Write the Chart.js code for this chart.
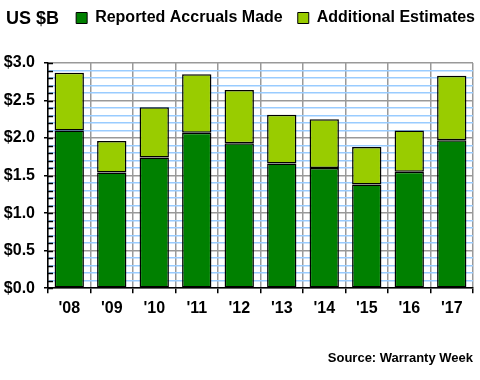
<!DOCTYPE html>
<html>
<head>
<meta charset="utf-8">
<script src="https://cdn.jsdelivr.net/npm/chart.js@4.4.0/dist/chart.umd.min.js"></script>
<style>
  html, body { margin: 0; padding: 0; background: #fff; }
  #wrap { position: relative; width: 480px; height: 380px; }
  #unit { position: absolute; left: 6px; top: 7px; font: bold 18px "Liberation Sans", Arial, sans-serif; color: #000; line-height: 22px; }
  canvas { position: absolute; left: 0; top: 0; }
</style>
</head>
<body>
<div id="wrap">
  <canvas id="c" width="480" height="380"></canvas>
  <div id="unit">US $B</div>
</div>
<script>
const categories = ["'08", "'09", "'10", "'11", "'12", "'13", "'14", "'15", "'16", "'17"];
const reportedAccruals = [2.10, 1.54, 1.74, 2.07, 1.93, 1.66, 1.60, 1.38, 1.55, 1.97];
const additionalEstimates = [0.77, 0.42, 0.67, 0.78, 0.71, 0.65, 0.65, 0.50, 0.55, 0.86];
const yMajorLabels = ["$0.0", "$0.5", "$1.0", "$1.5", "$2.0", "$2.5", "$3.0"];

const FONT = "'Liberation Sans', Arial, sans-serif";
const isMajor = v => Math.round(v * 10) % 5 === 0;
const LEG_PAD = 15;

const innerTicks = {
  id: 'innerTicks',
  afterLayout(chart) {
    const lg = chart.legend;
    const dx = (475 + LEG_PAD) - lg.right;
    const dy = -5 - lg.top;
    lg.left += dx; lg.right += dx;
    lg.top += dy; lg.bottom += dy;
  },
  afterDatasetsDraw(chart) {
    const y = chart.scales.y, ctx = chart.ctx, x0 = chart.chartArea.left;
    ctx.save();
    ctx.strokeStyle = '#000';
    ctx.lineWidth = 1.5;
    y.ticks.forEach(t => {
      const py = Math.round(y.getPixelForValue(t.value)) + 0.5;
      ctx.beginPath();
      ctx.moveTo(x0, py);
      ctx.lineTo(x0 + 5, py);
      ctx.stroke();
    });
    ctx.restore();
  }
};

new Chart(document.getElementById('c'), {
  type: 'bar',
  data: {
    labels: categories,
    datasets: [
      { label: 'Reported Accruals Made', data: reportedAccruals, backgroundColor: '#008000', borderColor: '#000', borderWidth: 1.5, borderSkipped: false },
      { label: 'Additional Estimates', data: additionalEstimates, backgroundColor: '#99CC00', borderColor: '#000', borderWidth: 1.5, borderSkipped: false }
    ]
  },
  options: {
    responsive: false,
    animation: false,
    layout: { padding: { left: 0, right: 7, top: 22, bottom: 14 } },
    datasets: { bar: { barPercentage: 0.69, categoryPercentage: 1.0 } },
    plugins: {
      legend: {
        position: 'top',
        align: 'end',
        labels: {
          font: { family: FONT, size: 16, weight: 'bold' },
          color: '#000',
          boxWidth: 11,
          boxHeight: 11,
          padding: LEG_PAD,
          generateLabels(chart) {
            return chart.data.datasets.map((d, i) => ({
              text: d.label, fillStyle: d.backgroundColor, strokeStyle: '#000', lineWidth: 1, datasetIndex: i, fontColor: '#000'
            }));
          }
        }
      },
      title: {
        display: true,
        text: 'Source: Warranty Week',
        position: 'bottom',
        align: 'end',
        color: '#000',
        font: { family: FONT, size: 13, weight: 'bold' },
        padding: { top: 26, bottom: 0 }
      },
      tooltip: { enabled: false }
    },
    scales: {
      x: {
        stacked: true,
        offset: true,
        grid: { display: true, offset: true, color: '#999999', lineWidth: 1.5, tickColor: '#000', tickLength: 5 },
        border: { display: true, color: '#000', width: 1.5 },
        ticks: { color: '#000', font: { family: FONT, size: 16, weight: 'bold' }, padding: 6 }
      },
      y: {
        stacked: true,
        min: 0,
        max: 3,
        afterFit(scale) { scale.width = 48; },
        grid: {
          color: ctx => isMajor(ctx.tick.value) ? '#999999' : '#99CCFF',
          lineWidth: 1.5,
          tickColor: ctx => isMajor(ctx.tick.value) ? '#000' : 'rgba(0,0,0,0)',
          tickLength: 4
        },
        border: { display: true, color: '#000', width: 1.5 },
        ticks: {
          stepSize: 0.1,
          autoSkip: false,
          color: '#000',
          padding: 9,
          font: { family: FONT, size: 16, weight: 'bold' },
          callback: v => isMajor(v) ? yMajorLabels[Math.round(v * 2)] : ''
        }
      }
    }
  },
  plugins: [innerTicks]
});
</script>
</body>
</html>
